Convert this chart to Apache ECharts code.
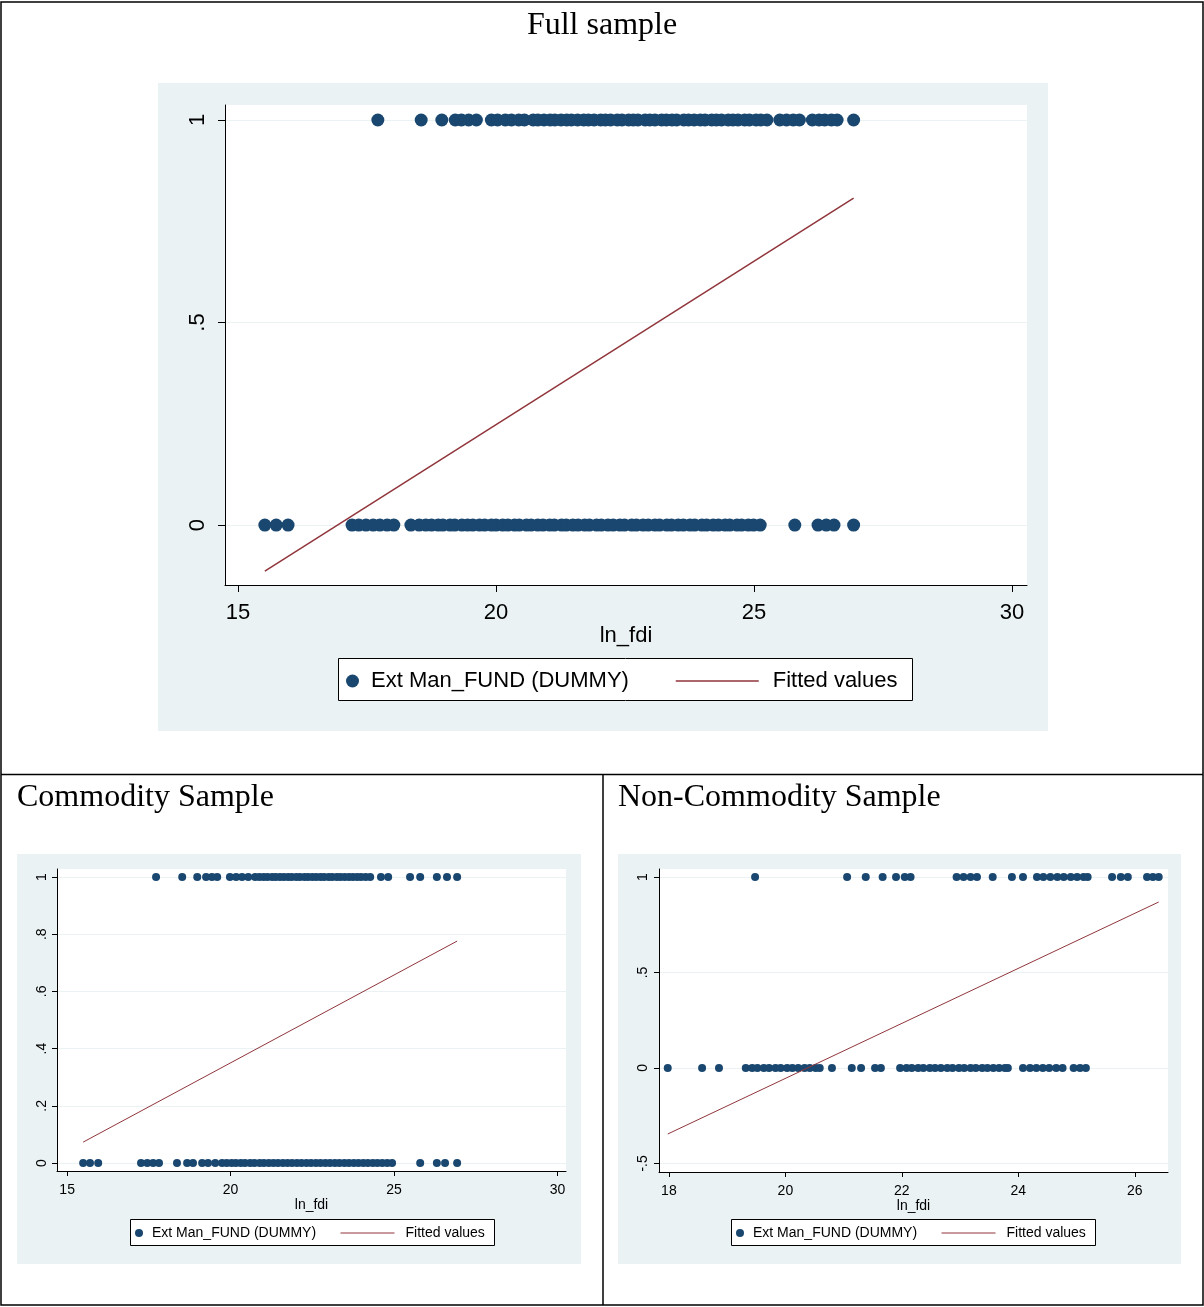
<!DOCTYPE html>
<html>
<head>
<meta charset="utf-8">
<script src="https://cdn.jsdelivr.net/npm/echarts@6/dist/echarts.min.js"></script>
<style>
  html, body { margin: 0; padding: 0; background: #ffffff; }
  #chart { width: 1204px; height: 1307px; }
</style>
</head>
<body>
<div id="chart"></div>
<script>
// ln_fdi of observations with the dummy equal to 1 / 0, per sample
const fullAt1 = [17.71, 18.55, 18.95, 19.21, 19.33, 19.47, 19.62, 19.91, 20.03, 20.18, 20.3, 20.44, 20.55, 20.72, 20.81, 20.93, 21.05, 21.14, 21.26, 21.37, 21.46, 21.58, 21.7, 21.79, 21.9, 22.03, 22.12, 22.22, 22.35, 22.44, 22.57, 22.66, 22.75, 22.89, 22.98, 23.08, 23.21, 23.3, 23.41, 23.5, 23.64, 23.73, 23.84, 23.96, 24.05, 24.18, 24.27, 24.37, 24.5, 24.59, 24.69, 24.82, 24.91, 25.04, 25.13, 25.25, 25.5, 25.63, 25.76, 25.88, 26.13, 26.26, 26.37, 26.5, 26.61, 26.93];
const fullAt0 = [15.52, 15.74, 15.97, 17.21, 17.34, 17.48, 17.62, 17.75, 17.89, 18.02, 18.35, 18.51, 18.64, 18.75, 18.88, 18.97, 19.11, 19.2, 19.34, 19.45, 19.55, 19.68, 19.78, 19.91, 20.0, 20.13, 20.23, 20.36, 20.45, 20.59, 20.68, 20.81, 20.91, 21.04, 21.13, 21.27, 21.36, 21.49, 21.59, 21.72, 21.81, 21.95, 22.04, 22.17, 22.27, 22.4, 22.49, 22.63, 22.72, 22.85, 22.95, 23.08, 23.17, 23.31, 23.4, 23.53, 23.63, 23.76, 23.85, 23.99, 24.08, 24.21, 24.31, 24.44, 24.53, 24.67, 24.76, 24.89, 24.99, 25.12, 25.79, 26.24, 26.4, 26.55, 26.93];

const commAt1 = [17.72, 18.52, 18.98, 19.25, 19.43, 19.59, 19.98, 20.17, 20.35, 20.54, 20.75, 20.88, 21.01, 21.13, 21.27, 21.38, 21.51, 21.63, 21.76, 21.87, 22.01, 22.12, 22.26, 22.37, 22.5, 22.62, 22.75, 22.86, 23.0, 23.11, 23.25, 23.36, 23.49, 23.62, 23.74, 23.87, 23.99, 24.13, 24.27, 24.6, 24.82, 25.49, 25.8, 26.31, 26.62, 26.93];
const commAt0 = [15.49, 15.7, 15.95, 17.26, 17.45, 17.63, 17.81, 18.36, 18.67, 18.85, 19.13, 19.31, 19.53, 19.74, 19.88, 20.03, 20.16, 20.31, 20.44, 20.6, 20.73, 20.89, 21.02, 21.17, 21.31, 21.45, 21.6, 21.74, 21.88, 22.03, 22.17, 22.32, 22.46, 22.61, 22.75, 22.9, 23.04, 23.19, 23.33, 23.48, 23.62, 23.77, 23.91, 24.06, 24.2, 24.35, 24.49, 24.64, 24.79, 24.94, 25.8, 26.31, 26.56, 26.93];

const nonAt1 = [19.48, 21.06, 21.38, 21.67, 21.9, 22.05, 22.15, 22.94, 23.06, 23.18, 23.29, 23.56, 23.89, 24.08, 24.32, 24.43, 24.55, 24.67, 24.78, 24.9, 25.01, 25.12, 25.19, 25.61, 25.76, 25.88, 26.21, 26.31, 26.41];
const nonAt0 = [17.98, 18.57, 18.86, 19.32, 19.43, 19.52, 19.63, 19.72, 19.83, 19.92, 20.03, 20.12, 20.22, 20.33, 20.42, 20.52, 20.59, 20.8, 21.14, 21.3, 21.54, 21.64, 21.97, 22.08, 22.17, 22.28, 22.37, 22.48, 22.57, 22.67, 22.78, 22.87, 22.98, 23.07, 23.18, 23.27, 23.38, 23.47, 23.57, 23.67, 23.77, 23.82, 24.08, 24.2, 24.31, 24.42, 24.53, 24.65, 24.76, 24.95, 25.06, 25.16];

// Linear fit endpoints [ln_fdi, fitted value]
const fitFull = [[15.52, -0.114], [26.93, 0.807]];
const fitComm = [[15.49, 0.073], [26.93, 0.776]];
const fitNon = [[17.98, -0.346], [26.41, 0.869]];

// Tick values
const fullXTicks = [15, 20, 25, 30];
const fullYTicks = [0, 0.5, 1];
const commXTicks = [15, 20, 25, 30];
const commYTicks = [0, 0.2, 0.4, 0.6, 0.8, 1];
const nonXTicks = [18, 20, 22, 24, 26];
const nonYTicks = [-0.5, 0, 0.5, 1];

const DOT = '#1a476f';
const FIT = '#90353b';
const BG = '#eaf2f3';
const SANS = '"Liberation Sans", Arial, sans-serif';
const SERIF = '"Liberation Serif", "Times New Roman", serif';
const NAME_DOT = 'Ext Man_FUND (DUMMY)';
const NAME_FIT = 'Fitted values';

const fmt = v => String(v).replace('0.', '.');

function xAxis(gi, min, max, ticks, fs, tickLen, margin, nameGap) {
  return {
    type: 'value', gridIndex: gi, min: min, max: max,
    name: 'ln_fdi', nameLocation: 'middle', nameGap: nameGap,
    nameTextStyle: { fontFamily: SANS, fontSize: fs, color: '#000' },
    axisLine: { show: true, onZero: false, lineStyle: { color: '#000', width: 1 } },
    axisTick: { show: true, length: tickLen, customValues: ticks, lineStyle: { color: '#000' } },
    axisLabel: { customValues: ticks, formatter: fmt, fontFamily: SANS, fontSize: fs, color: '#000', margin: margin },
    splitLine: { show: false }
  };
}
function yAxis(gi, min, max, ticks, fs, tickLen, margin) {
  return {
    type: 'value', gridIndex: gi, min: min, max: max,
    axisLine: { show: true, onZero: false, lineStyle: { color: '#000', width: 1 } },
    axisTick: { show: true, length: tickLen, customValues: ticks, lineStyle: { color: '#000' } },
    axisLabel: { customValues: ticks, formatter: fmt, rotate: 90, fontFamily: SANS, fontSize: fs, color: '#000', margin: margin },
    splitLine: { show: true, lineStyle: { color: BG, width: 1.2 } }
  };
}
function dots(gi, xs, yv, size) {
  return {
    type: 'scatter', name: NAME_DOT, xAxisIndex: gi, yAxisIndex: gi,
    symbol: 'circle', symbolSize: size, itemStyle: { color: DOT, opacity: 1 },
    data: xs.map(x => [x, yv]), silent: true, z: 3
  };
}
function fit(gi, pts, w) {
  return {
    type: 'line', name: NAME_FIT, xAxisIndex: gi, yAxisIndex: gi,
    symbol: 'none', lineStyle: { color: FIT, width: w }, itemStyle: { color: FIT },
    data: pts, silent: true, z: 4
  };
}
function legendPair(left1, left2, top, fs, dot, lineW, lineWidth) {
  return [
    { data: [{ name: NAME_DOT, icon: 'circle' }], left: left1, top: top, padding: 0,
      itemWidth: dot, itemHeight: dot, itemGap: 0, selectedMode: false,
      textStyle: { fontFamily: SANS, fontSize: fs, color: '#000', padding: [0, 0, 0, Math.round(fs * 0.3)] } },
    { data: [{ name: NAME_FIT, itemStyle: { opacity: 0 }, lineStyle: { color: FIT, width: lineWidth } }],
      left: left2, top: top, padding: 0,
      itemWidth: lineW, itemHeight: fs * 0.6, itemGap: 0, selectedMode: false,
      itemStyle: { opacity: 0 },
      textStyle: { fontFamily: SANS, fontSize: fs, color: '#000', padding: [0, 0, 0, Math.round(fs * 0.4)] } }
  ];
}

const chart = echarts.init(document.getElementById('chart'), null, { renderer: 'canvas' });

const frame = { stroke: '#000', lineWidth: 1.5 };
const option = {
  backgroundColor: '#ffffff',
  animation: false,
  title: [
    { text: 'Full sample', left: 'center', top: 10, padding: 0,
      textStyle: { fontFamily: SERIF, fontSize: 32, fontWeight: 'normal', color: '#000' } },
    { text: 'Commodity Sample', left: 17, top: 782, padding: 0,
      textStyle: { fontFamily: SERIF, fontSize: 32, fontWeight: 'normal', color: '#000' } },
    { text: 'Non-Commodity Sample', left: 618, top: 782, padding: 0,
      textStyle: { fontFamily: SERIF, fontSize: 32, fontWeight: 'normal', color: '#000' } }
  ],
  graphic: [
    // panel backgrounds
    { type: 'rect', shape: { x: 158, y: 83, width: 890, height: 648 }, style: { fill: BG }, z: -10, silent: true },
    { type: 'rect', shape: { x: 17, y: 854, width: 564, height: 410 }, style: { fill: BG }, z: -10, silent: true },
    { type: 'rect', shape: { x: 618, y: 854, width: 563, height: 410 }, style: { fill: BG }, z: -10, silent: true },
    // legend boxes
    { type: 'rect', shape: { x: 338.5, y: 658.5, width: 574, height: 42 }, style: { fill: '#fff', stroke: '#000', lineWidth: 1 }, z: -5, silent: true },
    { type: 'rect', shape: { x: 130.5, y: 1219.5, width: 364, height: 26 }, style: { fill: '#fff', stroke: '#000', lineWidth: 1 }, z: -5, silent: true },
    { type: 'rect', shape: { x: 731.5, y: 1219.5, width: 364, height: 26 }, style: { fill: '#fff', stroke: '#000', lineWidth: 1 }, z: -5, silent: true },
    // page frame and dividers
    { type: 'rect', shape: { x: 1, y: 2, width: 1202, height: 1303 }, style: { fill: null, stroke: '#000', lineWidth: 1.5 }, z: 10, silent: true },
    { type: 'line', shape: { x1: 1, y1: 774.5, x2: 1203, y2: 774.5 }, style: frame, z: 10, silent: true },
    { type: 'line', shape: { x1: 603, y1: 774.5, x2: 603, y2: 1305 }, style: frame, z: 10, silent: true }
  ],
  grid: [
    { left: 225, top: 105, width: 802, height: 480, show: true, backgroundColor: '#fff', borderWidth: 0 },
    { left: 57, top: 869, width: 509, height: 302, show: true, backgroundColor: '#fff', borderWidth: 0 },
    { left: 659, top: 869, width: 509, height: 303, show: true, backgroundColor: '#fff', borderWidth: 0 }
  ],
  xAxis: [
    xAxis(0, 14.748, 30.29, fullXTicks, 22, 7, 17, 40),
    xAxis(1, 14.69, 30.26, commXTicks, 14, 5, 12, 26),
    xAxis(2, 17.83, 26.57, nonXTicks, 14, 5, 12, 25)
  ],
  yAxis: [
    yAxis(0, -0.148, 1.037, fullYTicks, 22, 7, 16),
    yAxis(1, -0.028, 1.028, commYTicks, 14, 5, 8),
    yAxis(2, -0.545, 1.042, nonYTicks, 14, 5, 9)
  ],
  legend: [].concat(
    legendPair(346, 675, 670, 22, 13, 83, 1.5),
    legendPair(135, 340, 1226, 14, 8, 54, 1),
    legendPair(736, 941, 1226, 14, 8, 54, 1)
  ),
  series: [
    dots(0, fullAt1, 1, 13), dots(0, fullAt0, 0, 13), fit(0, fitFull, 1.5),
    dots(1, commAt1, 1, 8), dots(1, commAt0, 0, 8), fit(1, fitComm, 1),
    dots(2, nonAt1, 1, 8), dots(2, nonAt0, 0, 8), fit(2, fitNon, 1)
  ]
};
chart.setOption(option);
</script>
</body>
</html>
